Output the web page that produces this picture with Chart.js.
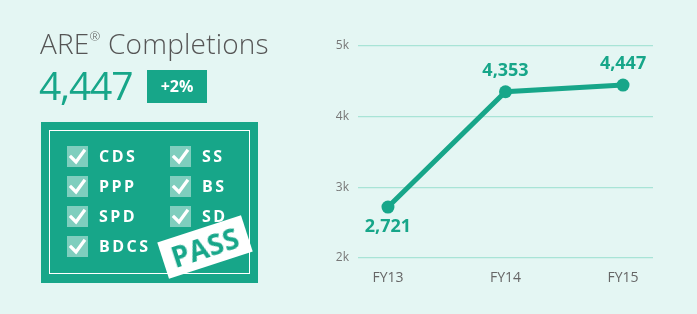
<!DOCTYPE html>
<html>
<head>
<meta charset="utf-8">
<script src="https://cdn.jsdelivr.net/npm/chart.js@4/dist/chart.umd.min.js"></script>
<style>
  html, body { margin: 0; padding: 0; background: #e4f6f3; }
  #wrap { position: relative; width: 697px; height: 314px; overflow: hidden; font-family: "Open Sans", sans-serif; }
  #chart { position: absolute; left: 0; top: 0; }
  .title { position: absolute; left: 40px; top: 24px; font-size: 28px; font-weight: 300; color: #555; white-space: nowrap; letter-spacing: 0.2px; }
  .title sup { font-size: 13px; vertical-align: 0; position: relative; top: -13px; }
  .big { position: absolute; left: 39px; top: 62px; font-size: 39px; color: #17a689; letter-spacing: -1.2px; line-height: 46px; }
  .delta { position: absolute; left: 147px; top: 70px; width: 60px; height: 33px; background: #17a689; color: #fff; font-weight: 700; font-size: 16px; line-height: 33px; text-align: center; }
  .box { position: absolute; left: 41px; top: 122px; width: 217px; height: 161px; background: #17a689; }
  .inner { position: absolute; left: 8px; top: 8px; right: 8px; bottom: 9px; border: 1.5px solid #fff; }
  .item { position: absolute; height: 21px; }
  .item .cb { position: absolute; left: 0; top: 0; width: 21px; height: 21px; background: rgba(255,255,255,0.45); }
  .item .lbl { position: absolute; left: 32px; top: -1px; color: #fff; font-weight: 700; font-size: 16px; letter-spacing: 2.5px; line-height: 22px; white-space: nowrap; }
  .stamp { position: absolute; left: 161px; top: 228px; width: 88px; height: 38px; background: #fff; transform: rotate(-18deg); color: #17a689; font-weight: 700; font-size: 28px; line-height: 38px; text-align: center; letter-spacing: 0.5px; }
</style>
</head>
<body>
<div id="wrap">
  <canvas id="chart" width="697" height="314"></canvas>
  <div class="title">ARE<sup>®</sup> Completions</div>
  <div class="big">4,447</div>
  <div class="delta">+2%</div>
  <div class="box"><div class="inner"></div></div>
  <div id="items"></div>
  <div class="stamp">PASS</div>
</div>
<script>
const years = ['FY13', 'FY14', 'FY15'];
const completions = [2721, 4353, 4447];
const yTicks = [2000, 3000, 4000, 5000];
const checksLeft = ['CDS', 'PPP', 'SPD', 'BDCS'];
const checksRight = ['SS', 'BS', 'SD'];

const TEAL = '#17a689';

function checkItem(label, x, y) {
  return `<div class="item" style="left:${x}px;top:${y}px">
    <div class="cb"><svg width="21" height="21"><polyline points="4,11 9,16 17,5" fill="none" stroke="#fff" stroke-width="3.2" stroke-linecap="square"/></svg></div>
    <div class="lbl">${label}</div></div>`;
}

document.getElementById('items').innerHTML =
  checksLeft.map((l, i) => checkItem(l, 67, 146 + i * 30)).join('') +
  checksRight.map((l, i) => checkItem(l, 170, 146 + i * 30)).join('');

const valueLabels = {
  id: 'valueLabels',
  afterDatasetsDraw(chart) {
    const ctx = chart.ctx;
    const meta = chart.getDatasetMeta(0);
    ctx.save();
    ctx.font = '700 18px "Open Sans"';
    ctx.fillStyle = TEAL;
    ctx.textAlign = 'center';
    ctx.textBaseline = 'middle';
    meta.data.forEach((pt, i) => {
      const v = completions[i];
      const prev = completions[i - 1], next = completions[i + 1];
      const low = (prev === undefined || v < prev) && (next === undefined || v < next);
      ctx.fillText(v.toLocaleString('en-US'), pt.x, low ? pt.y + 20 : pt.y - 21);
    });
    ctx.restore();
  }
};

new Chart(document.getElementById('chart'), {
  type: 'line',
  data: {
    datasets: [{
      data: completions.map((v, i) => ({ x: i, y: v })),
      borderColor: TEAL,
      backgroundColor: TEAL,
      borderWidth: 5,
      pointRadius: 6.5,
      pointHoverRadius: 6.5,
      pointBackgroundColor: TEAL,
      pointBorderWidth: 0,
      tension: 0,
    }],
  },
  options: {
    responsive: false,
    animation: false,
    events: [],
    layout: { padding: { left: 328, right: 44, top: 46, bottom: 0 } },
    plugins: { legend: { display: false }, tooltip: { enabled: false } },
    scales: {
      x: {
        type: 'linear',
        min: -0.255,
        max: 2.255,
        afterBuildTicks: s => { s.ticks = years.map((_, i) => ({ value: i })); },
        afterFit: s => { s.height = 56; },
        grid: { display: false, drawTicks: false },
        border: { display: false },
        ticks: {
          padding: 12,
          color: '#666',
          font: { family: 'Open Sans', size: 14 },
          callback: v => years[v],
        },
      },
      y: {
        min: 2000,
        max: 5000,
        afterBuildTicks: s => { s.ticks = yTicks.map(v => ({ value: v })); },
        afterFit: s => { s.width = 30; },
        grid: { color: '#a8e4d6', lineWidth: 1.2, drawTicks: false },
        border: { display: false },
        ticks: {
          padding: 9,
          color: '#777',
          font: { family: 'Open Sans', size: 12 },
          callback: v => (v / 1000) + 'k',
        },
      },
    },
  },
  plugins: [valueLabels],
});
</script>
</body>
</html>
